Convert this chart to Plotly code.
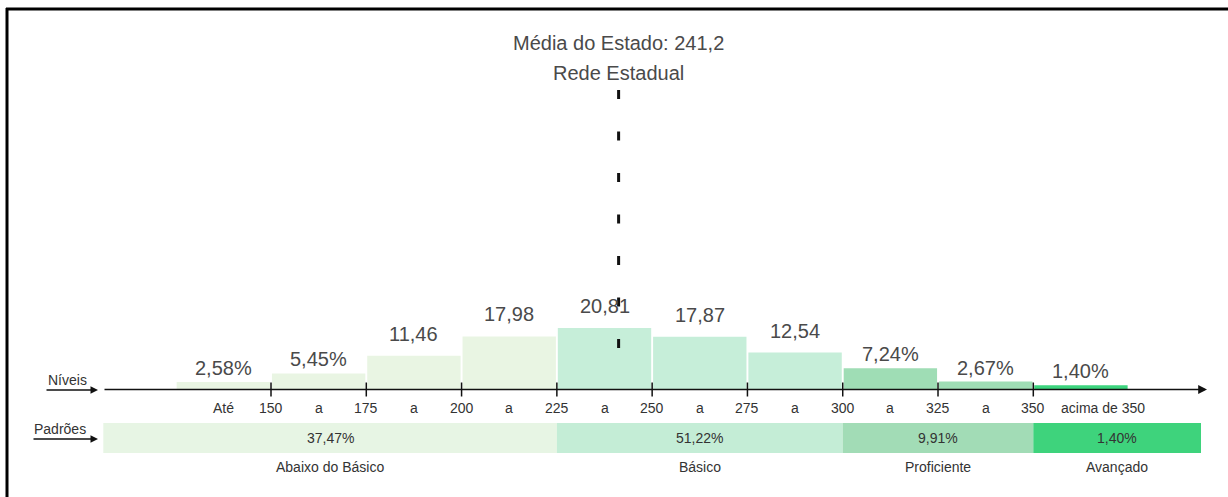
import plotly.graph_objects as go

# ---------------- data ----------------
level_names = ["Até 150", "150 a 175", "175 a 200", "200 a 225", "225 a 250",
               "250 a 275", "275 a 300", "300 a 325", "325 a 350", "acima de 350"]
level_start = [125, 150, 175, 200, 225, 250, 275, 300, 325, 350]
level_pct = [2.58, 5.45, 11.46, 17.98, 20.81, 17.87, 12.54, 7.24, 2.67, 1.40]
level_text = ["2,58%", "5,45%", "11,46", "17,98", "20,81", "17,87", "12,54", "7,24%", "2,67%", "1,40%"]
level_group = [0, 0, 0, 0, 1, 1, 1, 2, 2, 3]

tick_values = [150, 175, 200, 225, 250, 275, 300, 325, 350]
between_labels = ["Até", "a", "a", "a", "a", "a", "a", "a", "a", "acima de 350"]

padroes = ["Abaixo do Básico", "Básico", "Proficiente", "Avançado"]
padroes_pct = [37.47, 51.22, 9.91, 1.40]
padroes_text = ["37,47%", "51,22%", "9,91%", "1,40%"]
padroes_bounds = [106, 225, 300, 350, 394]

state_mean = 241.2
title_lines = ["Média do Estado: 241,2", "Rede Estadual"]

# ---------------- styling / layout ----------------
W, H = 1228, 497
PX_PER_PT = 3.8115
X0 = 78.9
BASE_PX = 389.5
PX_PER_PCT = 2.95

bar_colors = ["#e9f5e3", "#c6eed9", "#9fddb5", "#3dd47e"]
band_colors = ["#e7f5e4", "#c4edd6", "#a2dcb6", "#3ed37c"]
text_col = "#4a4a4a"
FONT = "Arial, Liberation Sans, sans-serif"


def px_x(px):
    return X0 + px / PX_PER_PT


def paper_x(px):
    return px / W


def paper_y(py):
    return 1 - py / H


def pct_y(py):
    return (BASE_PX - py) / PX_PER_PCT


fig = go.Figure()

bin_w = 25
fig.add_trace(go.Bar(
    x=[s + bin_w / 2 for s in level_start],
    y=level_pct,
    width=bin_w - 0.5,
    marker=dict(color=[bar_colors[g] for g in level_group], line=dict(width=0)),
    hoverinfo="skip",
))

band_top, band_bot = pct_y(423), pct_y(453)
fig.add_trace(go.Bar(
    x=[(padroes_bounds[i] + padroes_bounds[i + 1]) / 2 for i in range(4)],
    y=[band_top - band_bot] * 4,
    base=band_bot,
    width=[padroes_bounds[i + 1] - padroes_bounds[i] for i in range(4)],
    marker=dict(color=band_colors, line=dict(width=0)),
    hoverinfo="skip",
))

ann = []
# value labels
for s, v, t in zip(level_start, level_pct, level_text):
    ann.append(dict(x=s + bin_w / 2, y=v, xref="x", yref="y", text=t, showarrow=False,
                    yanchor="middle", yshift=(14 if "%" in t else 22),
                    font=dict(family=FONT, size=20, color=text_col)))
# range labels below axis
for i, lab in enumerate(between_labels):
    ann.append(dict(x=level_start[i] + bin_w / 2, y=0, xref="x", yref="y", text=lab,
                    showarrow=False, yanchor="middle", yshift=-18.5,
                    xshift=(22 if i == len(between_labels) - 1 else 0),
                    font=dict(family=FONT, size=14, color="#333333")))
for tv in tick_values:
    ann.append(dict(x=tv, y=0, xref="x", yref="y", text=str(tv), showarrow=False,
                    yanchor="middle", yshift=-18.5,
                    font=dict(family=FONT, size=14, color="#333333")))
# band labels
for i in range(4):
    cx = (padroes_bounds[i] + padroes_bounds[i + 1]) / 2
    ann.append(dict(x=cx, y=(band_top + band_bot) / 2, xref="x", yref="y", text=padroes_text[i],
                    showarrow=False, yanchor="middle",
                    font=dict(family=FONT, size=14, color="#333333")))
    ann.append(dict(x=cx, y=pct_y(467), xref="x", yref="y", text=padroes[i],
                    showarrow=False, yanchor="middle",
                    font=dict(family=FONT, size=14, color="#333333")))
# title
for j, line in enumerate(title_lines):
    ann.append(dict(x=state_mean, y=paper_y(43 + 30 * j), xref="x", yref="paper", text=line,
                    showarrow=False, yanchor="middle",
                    font=dict(family=FONT, size=20, color=text_col)))
# main axis arrow
ann.append(dict(x=px_x(1207), y=0, xref="x", yref="y", ax=-1104, ay=0, text="",
                showarrow=True, arrowhead=2, arrowsize=1.1, arrowwidth=1.6, arrowcolor="#111"))
# Níveis / Padrões
ann.append(dict(x=paper_x(67), y=paper_y(380), xref="paper", yref="paper", text="Níveis",
                xanchor="center", yanchor="middle",
                showarrow=False, font=dict(family=FONT, size=14, color="#333333")))
ann.append(dict(x=paper_x(98), y=paper_y(390), xref="paper", yref="paper", ax=-53, ay=0, text="",
                showarrow=True, arrowhead=2, arrowsize=1, arrowwidth=1.5, arrowcolor="#111"))
ann.append(dict(x=paper_x(60), y=paper_y(429), xref="paper", yref="paper", text="Padrões",
                xanchor="center", yanchor="middle",
                showarrow=False, font=dict(family=FONT, size=14, color="#333333")))
ann.append(dict(x=paper_x(98), y=paper_y(439), xref="paper", yref="paper", ax=-66, ay=0, text="",
                showarrow=True, arrowhead=2, arrowsize=1, arrowwidth=1.5, arrowcolor="#111"))

shapes = []
for tv in tick_values:
    shapes.append(dict(type="line", xref="x", yref="y", x0=tv, x1=tv, ysizemode="pixel",
                       yanchor=0, y0=-7, y1=7, line=dict(color="#111", width=1.5)))
# mean dashed line
shapes.append(dict(type="line", xref="x", yref="y", x0=state_mean, x1=state_mean,
                   y0=pct_y(90), y1=pct_y(350), line=dict(color="#111", width=3, dash="9px,32.5px")))
# frame (left and top)
shapes.append(dict(type="line", xref="paper", yref="paper", x0=paper_x(7), x1=paper_x(7),
                   y0=0, y1=paper_y(8), line=dict(color="black", width=3)))
shapes.append(dict(type="line", xref="paper", yref="paper", x0=paper_x(6), x1=1,
                   y0=paper_y(9), y1=paper_y(9), line=dict(color="black", width=3)))

fig.update_layout(
    width=W, height=H,
    margin=dict(l=0, r=0, t=0, b=0),
    paper_bgcolor="white", plot_bgcolor="white",
    showlegend=False, barmode="overlay",
    xaxis=dict(visible=False, range=[X0, X0 + W / PX_PER_PT], fixedrange=True),
    yaxis=dict(visible=False, range=[-(H - BASE_PX) / PX_PER_PCT, BASE_PX / PX_PER_PCT], fixedrange=True),
    annotations=ann, shapes=shapes,
)

fig.write_html("out.html")
